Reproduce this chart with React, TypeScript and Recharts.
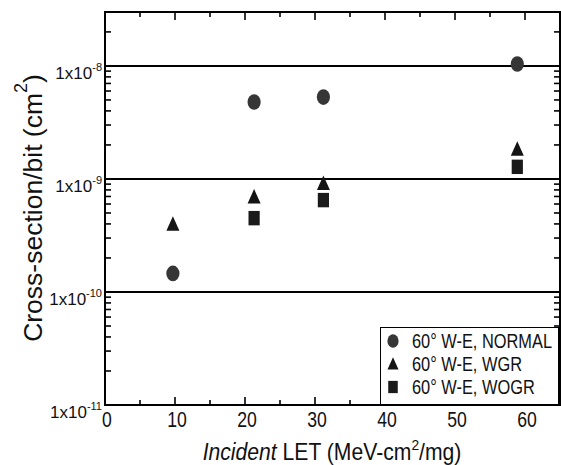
import React from 'react';
import {
  ScatterChart,
  Scatter,
  XAxis,
  YAxis,
  ReferenceLine,
  ReferenceArea,
  Legend,
} from 'recharts';

// LET (MeV-cm2/mg) and cross-section/bit (cm2) per test condition
const letNormal = [9.7, 21.3, 31.2, 58.9];
const csNormal = [1.46e-10, 4.8e-9, 5.3e-9, 1.04e-8];
const letWgr = [9.7, 21.3, 31.2, 58.9];
const csWgr = [3.85e-10, 6.7e-10, 8.8e-10, 1.77e-9];
const letWogr = [21.3, 31.2, 58.9];
const csWogr = [4.5e-10, 6.5e-10, 1.28e-9];

const seriesNames = ['60° W-E, NORMAL', '60° W-E, WGR', '60° W-E, WOGR'];
const xTicks = [0, 10, 20, 30, 40, 50, 60];
const xMinorTicks = [5, 15, 25, 35, 45, 55];
const yDecades = [1e-11, 1e-10, 1e-9, 1e-8];
const yExponents = ['-11', '-10', '-9', '-8'];
const gridLines = [1e-10, 1e-9, 1e-8];

const X_DOMAIN: [number, number] = [0, 65];
const Y_DOMAIN: [number, number] = [1e-11, 3e-8];

const W = 561;
const H = 465;
const M = { top: 12, right: 1, bottom: 0, left: 0 };
const Y_AXIS_W = 105;
const X_AXIS_H = 60;
const plotLeft = M.left + Y_AXIS_W;
const plotRight = W - M.right;
const plotTop = M.top;
const plotBottom = H - M.bottom - X_AXIS_H;

const sans = "'Liberation Sans', Arial, Helvetica, sans-serif";
const NARROW = 0.8; // the original lettering is a condensed Helvetica

const yMinor: number[] = [];
for (let d = -11; d <= -8; d++) {
  for (let k = 2; k <= 9; k++) {
    const v = k * Math.pow(10, d);
    if (v <= Y_DOMAIN[1]) yMinor.push(v);
  }
}

// inward tick marks: pixel lengths turned into data units so the axis scales place them
const xPerPx = (X_DOMAIN[1] - X_DOMAIN[0]) / (plotRight - plotLeft);
const decPerPx = Math.log10(Y_DOMAIN[1] / Y_DOMAIN[0]) / (plotBottom - plotTop);
const yTickLen = 6 * xPerPx;
const logFactor = (px: number) => Math.pow(10, px * decPerPx);

type Seg = [{ x: number; y: number }, { x: number; y: number }];
const tickSegs: Seg[] = [];
[...yDecades, ...yMinor].forEach(v => {
  tickSegs.push([{ x: X_DOMAIN[0], y: v }, { x: X_DOMAIN[0] + yTickLen, y: v }]);
  tickSegs.push([{ x: X_DOMAIN[1] - yTickLen, y: v }, { x: X_DOMAIN[1], y: v }]);
});
[...xTicks.map(v => [v, 8]), ...xMinorTicks.map(v => [v, 5])].forEach(([v, len]) => {
  const f = logFactor(len);
  tickSegs.push([{ x: v, y: Y_DOMAIN[0] }, { x: v, y: Y_DOMAIN[0] * f }]);
  tickSegs.push([{ x: v, y: Y_DOMAIN[1] / f }, { x: v, y: Y_DOMAIN[1] }]);
});

const toPoints = (xs: number[], ys: number[]) => xs.map((x, i) => ({ x, y: ys[i] }));
const normalData = toPoints(letNormal, csNormal);
const wgrData = toPoints(letWgr, csWgr);
const wogrData = toPoints(letWogr, csWogr);

// the scan is a little stretched vertically, so the markers are taller than wide
const Marker = ({ kind, cx, cy, k = 1 }: { kind: number; cx: number; cy: number; k?: number }) => {
  if (kind === 0) return <ellipse cx={cx} cy={cy} rx={6.6 * k} ry={7.8 * k} fill="#363636" />;
  if (kind === 1) {
    const w = 13 * k;
    const h = 14.5 * k;
    return (
      <polygon
        points={`${cx},${cy - (2 * h) / 3} ${cx + w / 2},${cy + h / 3} ${cx - w / 2},${cy + h / 3}`}
        fill="#141414"
      />
    );
  }
  return <rect x={cx - 5.6 * k} y={cy - 7.2 * k} width={11.2 * k} height={14.4 * k} fill="#1a1a1a" />;
};

const XTick = (props: any) => {
  const { x, payload } = props;
  return (
    <text
      x={0}
      y={0}
      transform={`translate(${x + 2} ${plotBottom + 22}) scale(${NARROW} 1)`}
      textAnchor="middle"
      fontSize={22}
      fontFamily={sans}
      fill="#111"
    >
      {payload.value}
    </text>
  );
};

const YTick = (props: any) => {
  const { y, payload } = props;
  const idx = yDecades.findIndex(d => Math.abs(d - payload.value) / d < 1e-6);
  return (
    <text x={plotLeft - 3} y={y + 13} textAnchor="end" fontSize={17} fontFamily={sans} fill="#111">
      1x10
      <tspan dy={-8} fontSize={11}>
        {yExponents[idx]}
      </tspan>
    </text>
  );
};

const YTitle = () => {
  const cx = 33;
  const cy = 208;
  return (
    <text
      x={cx}
      y={cy}
      transform={`rotate(-90 ${cx} ${cy})`}
      textAnchor="middle"
      dominantBaseline="central"
      fontSize={26.5}
      fontFamily={sans}
      fill="#111"
    >
      Cross-section/bit (cm
      <tspan dy={-12} fontSize={18}>2</tspan>
      <tspan dy={12}>)</tspan>
    </text>
  );
};

const XTitle = () => {
  const cx = 332;
  return (
    <text
      x={0}
      y={0}
      transform={`translate(${cx} ${plotBottom + 55}) scale(0.92 1)`}
      textAnchor="middle"
      fontSize={23}
      fontFamily={sans}
      fill="#111"
    >
      <tspan fontStyle="italic">Incident</tspan> LET (MeV-cm
      <tspan dy={-10} fontSize={15}>2</tspan>
      <tspan dy={10}>/mg)</tspan>
    </text>
  );
};

const LegendBox = () => (
  <div
    style={{
      width: 179,
      height: 78,
      border: '1.6px solid #000',
      background: '#fff',
      boxSizing: 'border-box',
      paddingTop: 1,
    }}
  >
    {seriesNames.map((name, i) => (
      <div key={name} style={{ display: 'flex', alignItems: 'center', height: 23 }}>
        <svg width={26} height={22} style={{ flexShrink: 0 }}>
          <Marker kind={i} cx={12} cy={i === 1 ? 12.5 : 11} k={0.85} />
        </svg>
        <span
          style={{
            display: 'inline-block',
            fontFamily: sans,
            fontSize: 21,
            lineHeight: '23px',
            color: '#111',
            marginLeft: 5,
            whiteSpace: 'nowrap',
            transform: `scaleX(0.78)`,
            transformOrigin: 'left center',
          }}
        >
          {name}
        </span>
      </div>
    ))}
  </div>
);

const makeShape = (i: number) => (p: any) => <Marker kind={i} cx={p.cx} cy={p.cy} />;

export default function App() {
  return (
    <div style={{ position: 'absolute', left: 0, top: 0, width: W, height: H, background: '#fff' }}>
      <ScatterChart width={W} height={H} margin={M}>
        <XAxis
          type="number"
          dataKey="x"
          domain={X_DOMAIN}
          ticks={xTicks}
          interval={0}
          allowDataOverflow
          height={X_AXIS_H}
          tickLine={false}
          axisLine={false}
          tick={<XTick />}
          label={{ content: <XTitle /> }}
        />
        <YAxis
          type="number"
          dataKey="y"
          scale="log"
          domain={Y_DOMAIN}
          ticks={yDecades}
          interval={0}
          allowDataOverflow
          width={Y_AXIS_W}
          tickLine={false}
          axisLine={false}
          tick={<YTick />}
          label={{ content: <YTitle /> }}
        />
        <ReferenceArea
          x1={X_DOMAIN[0]}
          x2={X_DOMAIN[1]}
          y1={Y_DOMAIN[0]}
          y2={Y_DOMAIN[1]}
          fill="none"
          fillOpacity={0}
          stroke="#000"
          strokeWidth={2}
          ifOverflow="visible"
        />
        {gridLines.map(v => (
          <ReferenceLine key={v} y={v} stroke="#000" strokeWidth={2} />
        ))}
        {tickSegs.map((s, i) => (
          <ReferenceLine key={`t${i}`} segment={s} stroke="#000" strokeWidth={1.6} ifOverflow="visible" />
        ))}
        <Scatter name={seriesNames[0]} data={normalData} shape={makeShape(0)} isAnimationActive={false} />
        <Scatter name={seriesNames[1]} data={wgrData} shape={makeShape(1)} isAnimationActive={false} />
        <Scatter name={seriesNames[2]} data={wogrData} shape={makeShape(2)} isAnimationActive={false} />
        <Legend
          layout="vertical"
          align="center"
          verticalAlign="middle"
          content={<LegendBox />}
          wrapperStyle={{ left: 380, top: 327, width: 179, height: 78 }}
        />
      </ScatterChart>
    </div>
  );
}
